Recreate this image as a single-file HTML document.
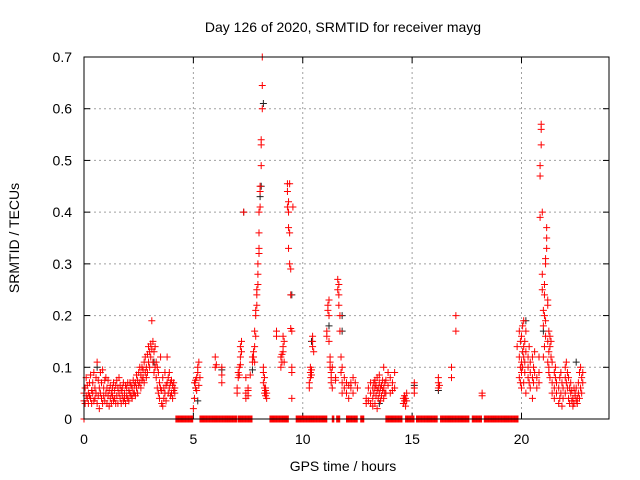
<!DOCTYPE html>
<html><head><meta charset="utf-8"><style>
html,body{margin:0;padding:0;background:#fff;}
svg{display:block;font-family:"Liberation Sans",sans-serif;}
</style></head><body>
<svg id="chart" width="640" height="480" viewBox="0 0 640 480">
<text x="343" y="32" text-anchor="middle" font-size="14">Day 126 of 2020, SRMTID for receiver mayg</text>
<text x="343" y="471" text-anchor="middle" font-size="14">GPS time / hours</text>
<text transform="translate(19,238) rotate(-90)" text-anchor="middle" font-size="14">SRMTID / TECUs</text>
<g id="grid"></g>
<g id="ticks"></g>
<g id="black"></g>
<g id="red"></g>
<rect x="84" y="57" width="525" height="362" fill="none" stroke="#000" stroke-width="1"/>
</svg>
<script>
const xTicks=[0,5,10,15,20];
const yTicks=[0,0.1,0.2,0.3,0.4,0.5,0.6,0.7];
const yTickLabels=["0","0.1","0.2","0.3","0.4","0.5","0.6","0.7"];
const zeroRanges=[[0,0.02],[4.2,5.0],[5.3,7.0],[7.05,7.7],[8.5,9.35],[9.7,11.1],[11.35,11.45],[11.55,11.7],[12.0,12.5],[12.65,12.8],[13.8,14.55],[14.7,15.1],[15.2,16.15],[16.3,17.6],[17.75,18.2],[18.3,19.85]];
const blackSamples=[[7.3,[.40]],[8.2,[.61]],[8.1,[.45]],[8.05,[.43]],[9.5,[.24]],[11.8,[.17,.2]],[20.2,[.19]],[10.4,[.15]],[13.5,[.03]],[3.2,[.11]],[0.6,[.1]],[21.0,[.17]],[22.5,[.11]],[16.2,[.055]],[15.1,[.065]],[5.2,[.035]],[6.3,[.095]],[7.7,[.095]],[11.2,[.18]]];
const redSamples=[
[0,[.035,.05]],[0.05,[.03,.06]],[0.1,[.045,.08]],[0.15,[.04,.065]],[0.2,[.05,.03]],[0.25,[.07,.045]],[0.3,[.04,.085]],[0.35,[.055,.03]],[0.4,[.07,.05]],[0.45,[.035,.09]],[0.5,[.06,.04]],[0.55,[.08,.05]],[0.6,[.11,.03]],[0.65,[.045,.075]],[0.7,[.02,.06]],[0.75,[.09,.05]],[0.8,[.04,.07]],[0.85,[.03,.095]],[0.9,[.06,.045]],[0.95,[.075,.035]],[1.0,[.05,.08]],[1.05,[.03,.06]],[1.1,[.045,.075]],[1.15,[.025,.055]],[1.2,[.04,.065]],[1.25,[.05,.03]],[1.3,[.06,.045]],[1.35,[.035,.07]],[1.4,[.055,.04]],[1.45,[.065,.03]],[1.5,[.045,.075]],[1.55,[.03,.06]],[1.6,[.05,.08]],[1.65,[.04,.065]],[1.7,[.03,.055]],[1.75,[.06,.045]],[1.8,[.035,.07]],[1.85,[.05,.04]],[1.9,[.065,.03]],[1.95,[.045,.06]],
[2.0,[.04,.07]],[2.05,[.055,.035]],[2.1,[.07,.05]],[2.15,[.045,.065]],[2.2,[.06,.04]],[2.25,[.075,.05]],[2.3,[.05,.065]],[2.35,[.07,.045]],[2.4,[.06,.085]],[2.45,[.075,.05]],[2.5,[.09,.065]],[2.55,[.07,.1]],[2.6,[.085,.06]],[2.65,[.1,.075]],[2.7,[.08,.095]],[2.75,[.11,.07]],[2.8,[.09,.12]],[2.85,[.1,.08]],[2.9,[.125,.09]],[2.95,[.11,.14]],[3.0,[.13,.1]],[3.05,[.145,.12]],[3.1,[.19,.135]],[3.15,[.15,.11]],[3.2,[.13,.09]],[3.25,[.1,.14]],[3.3,[.08,.11]],[3.35,[.06,.1]],[3.4,[.05,.09]],[3.45,[.04,.07]],[3.5,[.12,.06]],[3.55,[.03,.055]],[3.6,[.025,.08]],[3.65,[.04,.06]],[3.7,[.09,.05]],[3.75,[.065,.035]],[3.8,[.12,.07]],[3.85,[.08,.05]],[3.9,[.06,.09]],[3.95,[.045,.07]],[4.0,[.05,.075]],[4.05,[.065,.04]],[4.1,[.07,.055]],[4.15,[.05,.06]],
[5.0,[.02]],[5.05,[.04,.07]],[5.1,[.06,.075]],[5.15,[.055,.08]],[5.2,[.09,.1]],[5.25,[.065,.11]],[5.3,[.08]],
[6.0,[.12,.1]],[6.05,[.105]],[6.3,[.1,.07,.085]],
[7.0,[.05,.06]],[7.05,[.08,.09]],[7.1,[.1,.085]],[7.15,[.12,.14,.105]],[7.2,[.13,.15]],[7.3,[.4]],[7.4,[.08,.05,.04]],[7.5,[.06,.045,.055]],[7.6,[.085]],[7.7,[.11,.12]],[7.75,[.12,.13]],[7.8,[.11,.17,.14]],[7.85,[.16,.2,.21]],[7.9,[.22,.24,.25]],[7.95,[.26,.28,.3]],[8.0,[.33,.32,.36,.4]],[8.05,[.41,.44,.45]],[8.1,[.49,.53,.54]],[8.15,[.6,.645,.7]],[8.2,[.1,.09,.07]],[8.25,[.06,.05,.08]],[8.3,[.055,.045,.06]],[8.35,[.04,.05]],
[8.8,[.16,.17]],[9.0,[.1,.12]],[9.05,[.125,.11]],[9.1,[.14,.16,.13]],[9.15,[.11,.15]],[9.3,[.41,.44,.455]],[9.35,[.4,.42,.37,.33]],[9.4,[.36,.455,.3]],[9.45,[.29,.24,.175]],[9.5,[.1,.09,.04,.17]],[9.55,[.41]],
[10.3,[.07,.06]],[10.35,[.08,.09,.1]],[10.4,[.095,.085]],[10.45,[.15,.16,.14]],[10.5,[.13]],
[11.1,[.17,.16]],[11.15,[.21,.22]],[11.2,[.2,.23,.15]],[11.25,[.1,.12,.11]],[11.3,[.08,.07,.09]],[11.35,[.1,.06]],[11.5,[.08,.075]],[11.6,[.25,.27]],[11.65,[.26,.24,.22]],[11.7,[.2,.17]],[11.75,[.12,.09]],[11.8,[.07,.1,.05]],[11.9,[.08,.06]],[12.0,[.05,.07]],[12.1,[.065,.04]],[12.2,[.06,.07]],[12.3,[.05,.08]],[12.4,[.07]],[12.5,[.06]],
[12.9,[.04,.03]],[13.0,[.06,.035]],[13.1,[.05,.07,.03]],[13.2,[.04,.06,.025]],[13.25,[.07,.05]],[13.3,[.03,.06,.075]],[13.35,[.045,.065]],[13.4,[.055,.02,.08]],[13.45,[.06,.04]],[13.5,[.07,.05,.085]],[13.55,[.035,.06]],[13.6,[.065,.045]],[13.65,[.075,.055]],[13.7,[.06,.04,.1]],[13.75,[.07,.05]],[13.8,[.05,.075]],[13.9,[.09,.065]],[14.0,[.05,.08]],[14.1,[.07,.055]],[14.2,[.09,.06]],[14.6,[.04,.03]],[14.65,[.035,.045]],[14.7,[.04,.025]],[14.75,[.05,.035]],[15.1,[.05,.06,.07]],
[16.2,[.07,.06,.08]],[16.25,[.065]],[16.8,[.08,.1]],[17.0,[.17,.2]],[18.2,[.045,.05]],
[19.8,[.14]],[19.9,[.17,.12,.08]],[19.95,[.1,.15,.07]],[20.0,[.16,.11,.09,.06]],[20.05,[.13,.18,.1]],[20.1,[.14,.19,.07,.12]],[20.15,[.09,.15,.11]],[20.2,[.13,.05,.17]],[20.3,[.08,.12,.1]],[20.35,[.14,.07]],[20.4,[.11,.06,.09]],[20.5,[.12,.08,.04]],[20.55,[.1,.07]],[20.6,[.09,.13]],[20.7,[.06,.08]],[20.8,[.12,.09,.07]],[20.85,[.47,.49,.39]],[20.9,[.56,.57,.53]],[20.95,[.4,.28,.25]],[21.0,[.21,.18,.12]],[21.05,[.14,.2,.26,.24]],[21.1,[.31,.3,.19,.16]],[21.15,[.35,.37,.33]],[21.2,[.15,.23,.11,.22]],[21.25,[.13,.17,.1,.09]],[21.3,[.08,.14,.16]],[21.35,[.12,.15]],[21.4,[.07,.05,.11]],[21.5,[.09,.04,.06]],[21.55,[.1,.08]],[21.6,[.05,.07]],[21.7,[.06,.03]],[21.75,[.08,.04]],[21.8,[.05,.09]],[21.85,[.07,.025]],[21.9,[.04,.06]],[22.0,[.1,.08,.05]],[22.05,[.11,.07]],[22.1,[.09,.06]],[22.15,[.04,.08]],[22.2,[.06,.03]],[22.25,[.05,.07]],[22.3,[.035,.055]],[22.35,[.04,.025]],[22.4,[.06,.03]],[22.45,[.05,.045]],[22.5,[.035,.06]],[22.55,[.04,.03]],[22.6,[.07,.05]],[22.65,[.09,.04]],[22.7,[.1,.06]],[22.75,[.08,.05]],[22.8,[.09,.07]]
];
const NS="http://www.w3.org/2000/svg";
const X0=84,X1=609,Y0=419,Y1=57,XMAX=24,YMAX=0.7;
function xs(h){return X0+(h/XMAX)*(X1-X0);}
function ys(v){return Y0-(v/YMAX)*(Y0-Y1);}
function mk(tag,attrs,parent){const e=document.createElementNS(NS,tag);for(const k in attrs)e.setAttribute(k,attrs[k]);parent.appendChild(e);return e;}
const grid=document.getElementById('grid'),ticks=document.getElementById('ticks');
xTicks.forEach(t=>{const x=xs(t);
 if(t>0){const g=mk('line',{x1:x,x2:x,y1:Y1,y2:Y0,stroke:'#a0a0a0','stroke-dasharray':'2,3'},grid);
 
 }
 mk('line',{x1:x,x2:x,y1:Y0,y2:Y0-6,stroke:'#000'},ticks);
 mk('line',{x1:x,x2:x,y1:Y1,y2:Y1+6,stroke:'#000'},ticks);
 const l=mk('text',{x:x,y:Y0+25,'text-anchor':'middle','font-size':'14'},ticks);l.textContent=String(t);
 
 
});
yTicks.forEach((t,i)=>{const y=ys(t);
 if(t>0&&t<YMAX){const g=mk('line',{x1:X0,x2:X1,y1:y,y2:y,stroke:'#a0a0a0','stroke-dasharray':'2,3'},grid);
 
 }
 mk('line',{x1:X0,x2:X0+6,y1:y,y2:y,stroke:'#000'},ticks);
 mk('line',{x1:X1,x2:X1-6,y1:y,y2:y,stroke:'#000'},ticks);
 const l=mk('text',{x:X0-12,y:y+5,'text-anchor':'end','font-size':'14'},ticks);l.textContent=yTickLabels[i];
 
 
});
function plus(g,h,v,col){const x=xs(h),y=ys(v);
 const p=mk('path',{d:`M${x-3.5},${y}H${x+3.5}M${x},${y-3.5}V${y+3.5}`,stroke:col,'stroke-width':'1',fill:'none'},g);
 
 }
const bg=document.getElementById('black'),rg=document.getElementById('red');
blackSamples.forEach(s=>s[1].forEach(v=>plus(bg,s[0],v,'#222')));
zeroRanges.forEach(r=>{for(let h=r[0];h<=r[1]+1e-9;h+=0.035)plus(rg,h,0,'#f00');});
redSamples.forEach(s=>s[1].forEach(v=>plus(rg,s[0],v,'#f00')));
</script>
</body></html>
